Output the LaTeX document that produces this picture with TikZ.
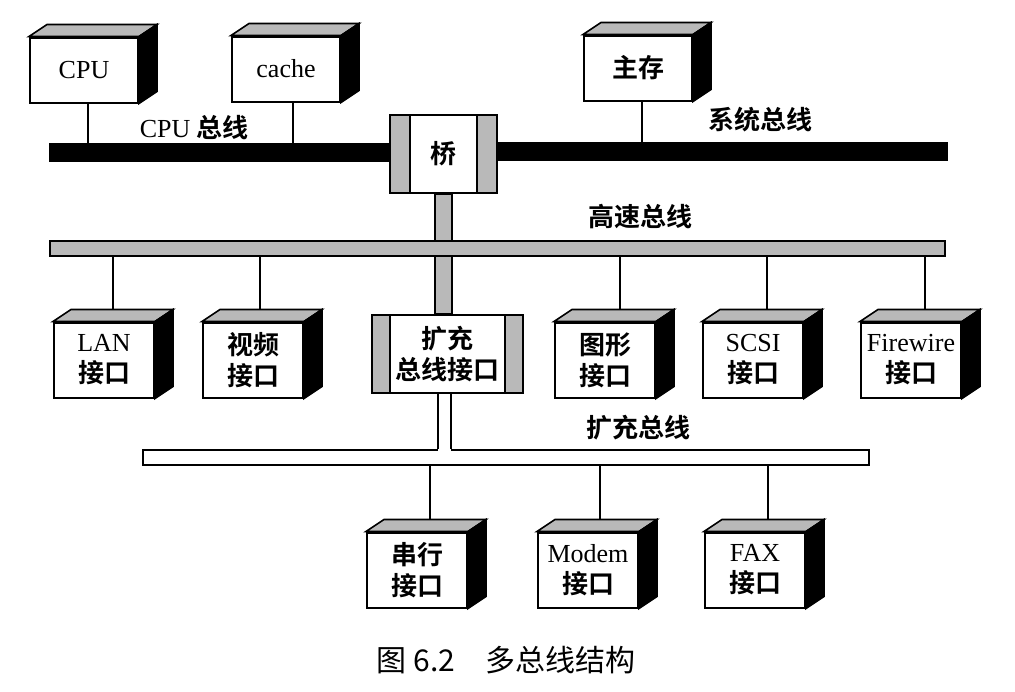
\documentclass[tikz,border=0pt]{standalone}
\usepackage{fontspec}
\setmainfont{Liberation Serif}
\newfontfamily\hei{Noto Sans CJK SC Bold}
\newfontfamily\song{Noto Sans CJK SC}
\usetikzlibrary{calc}
\newcommand{\zh}[1]{{\hei #1}}

\begin{document}
\begin{tikzpicture}[x=0.5pt,y=-0.5pt,
  bx/.style={draw, line width=1pt, fill=white, align=center, inner sep=0pt,
    font=\fontsize{13}{15.5}\selectfont, minimum width=54pt, minimum height=32.5pt},
  lbx/.style={bx, minimum width=50pt, minimum height=37.5pt},
  bus/.style={draw, line width=1pt, inner sep=0pt, minimum height=7.5pt},
  hat/.style={fill=gray!55, draw=black, line width=1pt},
  lbl/.style={font=\fontsize{13}{15}\selectfont\hei}]
  \useasboundingbox (0,0) rectangle (1015,691);
  \node[bus, fill=black, minimum width=170pt, minimum height=8.5pt] (cb) at (220,152) {};
  \node[bus, fill=black, minimum width=225pt, minimum height=8.5pt] (sb) at (722,151) {};
  \node[bus, hat, minimum width=53.5pt, minimum height=39pt] (br) at (443.5,154) {};
  \node[bx, minimum width=33.5pt, minimum height=39pt] (brt) at (br) {\zh{桥}};
  \node[bus, hat, minimum width=75.5pt, minimum height=39pt] (xi) at (447.5,354) {};
  \node[bx, minimum width=57.5pt, minimum height=39pt] (xit) at (xi) {\zh{扩充}\\\zh{总线接口}};
  \filldraw[hat] ([xshift=-4.25pt]br.south) rectangle ([xshift=4.25pt]br.south |- xi.north);
  \node[bus, hat, minimum width=447.5pt] (hb) at (497.5,248.5) {};
  \node[bus, fill=white, minimum width=363pt] (xb) at (506,457.5) {};
  \fill[white] ($(xi.south)+(-10,0)$) rectangle ($(xi.south |- xb.center)+(3,0)$);
  \draw[line width=1pt] ($(xi.south)+(-10,0)$) -- ($(xi.south |- xb.north)+(-10,0)$);
  \draw[line width=1pt] ($(xi.south)+(3,0)$) -- ($(xi.south |- xb.north)+(3,0)$);

  \node[bx] (cpu) at (84,70) {CPU};
  \node[bx] (cache) at (286,69) {cache};
  \node[bx] (mem) at (638,68) {\zh{主存}};
  \node[lbx] (lan) at (104,360) {LAN\\\zh{接口}};
  \node[lbx] (vid) at (253,360) {\zh{视频}\\\zh{接口}};
  \node[lbx] (gfx) at (605,360) {\zh{图形}\\\zh{接口}};
  \node[lbx] (scsi) at (753,360) {SCSI\\\zh{接口}};
  \node[lbx] (fw) at (911,360) {Firewire\\\zh{接口}};
  \node[lbx] (ser) at (417,570) {\zh{串行}\\\zh{接口}};
  \node[lbx] (mdm) at (588,570) {Modem\\\zh{接口}};
  \node[lbx] (fax) at (755,570) {FAX\\\zh{接口}};
  \foreach \n in {cpu,cache,mem,lan,vid,gfx,scsi,fw,ser,mdm,fax}{
    \filldraw[fill=gray!55, line width=0.8pt] (\n.north west) -- ++(18,-12) -- ($(\n.north east)+(18,-12)$) -- (\n.north east) -- cycle;
    \filldraw[fill=black, line width=0.8pt] (\n.north east) -- ++(18,-12) -- ($(\n.south east)+(18,-12)$) -- (\n.south east) -- cycle;
  }

  \foreach \n/\d in {cpu/4,cache/7,mem/4}
    \draw[line width=1pt] ($(\n.south)+(\d,0)$) coordinate (t) -- (t |- cb.north);
  \foreach \n/\d in {lan/9,vid/7,gfx/15,scsi/14,fw/14}
    \draw[line width=1pt] ($(\n.north)+(\d,-12)$) coordinate (t) -- (t |- hb.south);
  \foreach \n/\d in {ser/13,mdm/12,fax/13}
    \draw[line width=1pt] ($(\n.north)+(\d,-12)$) coordinate (t) -- (t |- xb.south);

  \node[lbl] (lc) at (194,128) {{\rmfamily CPU} 总线};
  \node[lbl] (ls) at (760,120) {系统总线};
  \node[lbl] (lh) at (640,217) {高速总线};
  \node[lbl] (lx) at (638,428) {扩充总线};
  \node[font=\fontsize{15}{17}\selectfont\song] (cap) at (506,660) {图 6.2\quad 多总线结构};
\end{tikzpicture}
\end{document}
